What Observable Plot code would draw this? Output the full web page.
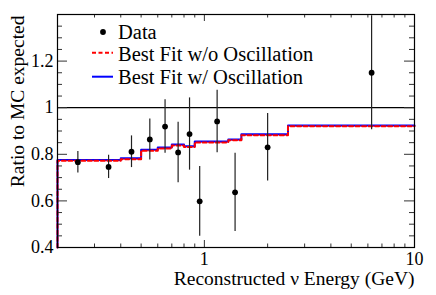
<!DOCTYPE html>
<html><head><meta charset="utf-8">
<script src="https://cdn.jsdelivr.net/npm/d3@7"></script>
<script src="https://cdn.jsdelivr.net/npm/@observablehq/plot@0.6"></script>
<style>body{margin:0;background:#fff}</style>
</head><body><div id="chart"></div>
<script>
// Histogram bin edges (GeV) and best-fit ratios per bin
const binEdges = [0.2, 0.3, 0.4, 0.5, 0.6, 0.7, 0.8, 0.9, 1.0, 1.3, 1.5, 2.5, 10];
const fitOsc   = [0.776, 0.776, 0.783, 0.819, 0.829, 0.842, 0.835, 0.855, 0.855, 0.864, 0.886, 0.924];
const fitNoOsc = [0.772, 0.772, 0.779, 0.815, 0.825, 0.838, 0.831, 0.851, 0.851, 0.860, 0.882, 0.920];
// Data points
const energy   = [0.25, 0.35, 0.45, 0.55, 0.65, 0.75, 0.85, 0.95, 1.15, 1.4, 2.0, 6.25];
const ratio    = [0.766, 0.746, 0.811, 0.864, 0.919, 0.808, 0.887, 0.598, 0.941, 0.637, 0.830, 1.150];
const ratioErr = [0.046, 0.050, 0.068, 0.088, 0.115, 0.130, 0.155, 0.150, 0.134, 0.168, 0.145, 0.245];
// Axes
const xDomain = [0.2, 10];
const yDomain = [0.4, 1.4];
const xMajorTicks = [1, 10];
const xMinorTicks = [0.2, 0.3, 0.4, 0.5, 0.6, 0.7, 0.8, 0.9, 2, 3, 4, 5, 6, 7, 8, 9];
const yMajorTicks = [0.4, 0.6, 0.8, 1.0, 1.2, 1.4];
const yMinorTicks = [0.45, 0.5, 0.55, 0.65, 0.7, 0.75, 0.85, 0.9, 0.95, 1.05, 1.1, 1.15, 1.25, 1.3, 1.35];
const yTickLabels = [0.4, 0.6, 0.8, 1, 1.2];
const referenceLine = [1];
const xTitle = "Reconstructed \u03bd Energy (GeV)";
const yTitle = "Ratio to MC expected";
const legendLabels = ["Data", "Best Fit w/o Oscillation", "Best Fit w/ Oscillation"];

const W = 436, H = 295, mL = 57, mR = 22, mT = 14, mB = 48;
const innerW = W - mL - mR, innerH = H - mT - mB;
const FONT = "'Liberation Serif', 'Times New Roman', serif";

const points = energy.map((e, i) => ({e, r: ratio[i], lo: ratio[i] - ratioErr[i], hi: ratio[i] + ratioErr[i]}));
function stepPoints(vals) {
  const pts = [{x: binEdges[0], y: yDomain[0]}];
  vals.forEach((v, i) => pts.push({x: binEdges[i], y: v}));
  pts.push({x: binEdges[binEdges.length - 1], y: vals[vals.length - 1]});
  return pts;
}

const chart = Plot.plot({
  width: W, height: H,
  marginLeft: mL, marginRight: mR, marginTop: mT, marginBottom: mB,
  x: {type: "log", domain: xDomain, axis: null},
  y: {domain: yDomain, axis: null},
  style: {fontFamily: FONT, fontSize: "18px", color: "black", background: "white", overflow: "visible"},
  marks: [
    Plot.line(stepPoints(fitOsc), {x: "x", y: "y", curve: "step-after", stroke: "#0000ff", strokeWidth: 2}),
    Plot.line(stepPoints(fitNoOsc), {x: "x", y: "y", curve: "step-after", stroke: "#ff0000", strokeWidth: 2, strokeDasharray: "4,2.5"}),
    Plot.ruleY(referenceLine, {y: d => d, stroke: "black", strokeWidth: 1.3}),
    Plot.ruleX(points, {x: "e", y1: "lo", y2: "hi", stroke: "#222", strokeWidth: 1.2, clip: true}),
    Plot.dot(points, {x: "e", y: "r", r: 2.9, fill: "black", stroke: null}),
    // ticks (inward, both sides)
    Plot.ruleX(xMajorTicks, {x: d => d, insetTop: innerH - 7, stroke: "#333"}),
    Plot.ruleX(xMinorTicks, {x: d => d, insetTop: innerH - 3.5, stroke: "#333"}),
    Plot.ruleX(xMajorTicks, {x: d => d, insetBottom: innerH - 7, stroke: "#333"}),
    Plot.ruleX(xMinorTicks, {x: d => d, insetBottom: innerH - 3.5, stroke: "#333"}),
    Plot.ruleY(yMajorTicks, {y: d => d, insetRight: innerW - 10, stroke: "#333"}),
    Plot.ruleY(yMinorTicks, {y: d => d, insetRight: innerW - 5, stroke: "#333"}),
    Plot.ruleY(yMajorTicks, {y: d => d, insetLeft: innerW - 10, stroke: "#333"}),
    Plot.ruleY(yMinorTicks, {y: d => d, insetLeft: innerW - 5, stroke: "#333"}),
    Plot.frame({stroke: "black", strokeWidth: 1.2}),
    // tick labels
    Plot.text(yTickLabels, {y: d => d, text: d => String(d), frameAnchor: "left", dx: -4, textAnchor: "end", fontSize: 18, fill: "black"}),
    Plot.text(xMajorTicks, {x: d => d, text: d => String(d), frameAnchor: "bottom", dy: 17, fontSize: 18, fill: "black"}),
    // axis titles
    Plot.text([xTitle], {text: d => d, frameAnchor: "bottom-right", textAnchor: "end", dy: 37, fontSize: 19.5, fill: "black"}),
    Plot.text([yTitle], {text: d => d, frameAnchor: "top-left", textAnchor: "end", rotate: -90, dx: -47, dy: 1, fontSize: 19.5, fill: "black"})
  ]
});
document.getElementById("chart").appendChild(chart);

// Legend (inside frame, top-left)
const svg = d3.select(chart);
const lg = svg.append("g").attr("font-family", FONT).attr("font-size", 20.5)
  .attr("fill", "black").attr("text-anchor", "start");
lg.append("circle").attr("cx", 103).attr("cy", 32).attr("r", 2.9).attr("fill", "black");
lg.append("text").attr("x", 118).attr("y", 38.5).text(legendLabels[0]);
lg.append("line").attr("x1", 92).attr("x2", 113).attr("y1", 52.7).attr("y2", 52.7)
  .attr("stroke", "#ff0000").attr("stroke-width", 2).attr("stroke-dasharray", "4,2.5");
lg.append("text").attr("x", 118).attr("y", 61.2).text(legendLabels[1]);
lg.append("line").attr("x1", 92).attr("x2", 113).attr("y1", 76.7).attr("y2", 76.7)
  .attr("stroke", "#0000ff").attr("stroke-width", 2);
lg.append("text").attr("x", 118).attr("y", 83.5).text(legendLabels[2]);
</script>
</body></html>
